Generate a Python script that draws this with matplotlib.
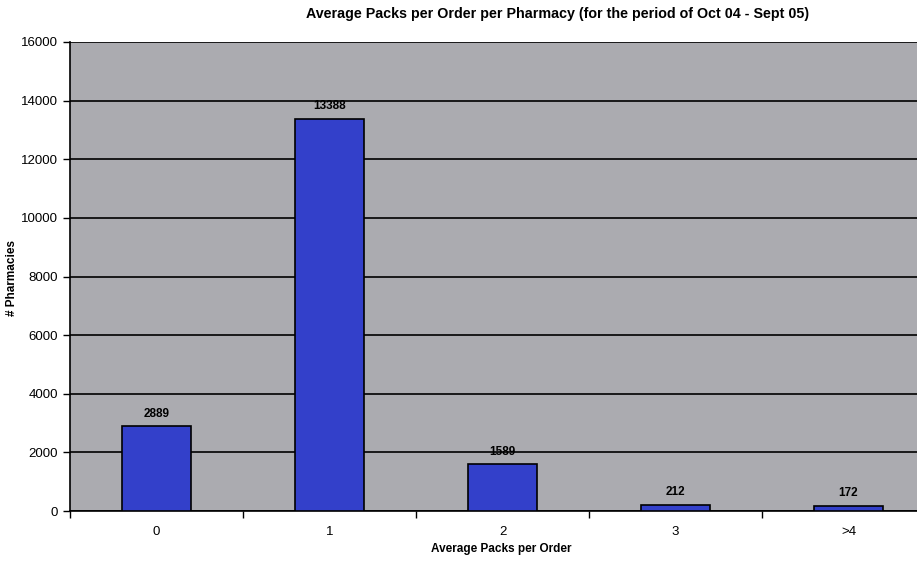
import matplotlib
matplotlib.use("Agg")
import matplotlib.pyplot as plt
import numpy as np

categories = ["0", "1", "2", "3", ">4"]
pharmacies = [2889, 13388, 1589, 212, 172]
y_ticks = [0, 2000, 4000, 6000, 8000, 10000, 12000, 14000, 16000]

plt.rcParams['font.family'] = ['Liberation Sans', 'DejaVu Sans']

W, H = 917, 562
fig = plt.figure(figsize=(W / 100, H / 100), dpi=100)
fig.patch.set_facecolor("white")

# plot area: left edge at x=70 px, extends past the right edge of the figure
left, right, top, bottom = 70, 935, 42, 511
ax = fig.add_axes([left / W, 1 - bottom / H, (right - left) / W, (bottom - top) / H])
ax.set_facecolor("#ABABB0")

x = np.arange(len(categories))
bars = ax.bar(x, pharmacies, width=0.4, color="#3340CA", edgecolor="black",
              linewidth=1.2, zorder=3)

for xi, v in zip(x, pharmacies):
    ax.text(xi, v + 230, str(v), ha="center", va="bottom", fontsize=8.5,
            fontweight="bold", color="black", zorder=4)

ax.set_xlim(-0.5, len(categories) - 0.5)
ax.set_ylim(0, 16000)
ax.set_yticks(y_ticks)
ax.set_yticklabels([str(t) for t in y_ticks], fontsize=9.5)
ax.yaxis.grid(True, color="black", linewidth=1.2, zorder=1)
ax.set_axisbelow(True)

# category labels centred on bars, tick marks between categories
ax.set_xticks(x)
ax.set_xticklabels(categories, fontsize=9.5)
ax.tick_params(axis="x", which="major", length=0, pad=11)
ax.set_xticks(np.arange(-0.5, len(categories)), minor=True)
ax.tick_params(axis="x", which="minor", length=5, width=1, direction="out", color="black")
ax.tick_params(axis="y", length=5, width=1, direction="out", color="black")

for side in ["top", "right"]:
    ax.spines[side].set_visible(False)
ax.spines["left"].set_linewidth(1.2)
ax.spines["bottom"].set_linewidth(1.2)

fig.text(558 / W, 1 - 14 / H, "Average Packs per Order per Pharmacy (for the period of Oct 04 - Sept 05)",
         ha="center", va="center", fontsize=10.3, fontweight="bold")
fig.text(501 / W, 1 - 549 / H, "Average Packs per Order", ha="center", va="center",
         fontsize=8.5, fontweight="bold")
fig.text(12 / W, 1 - 278 / H, "# Pharmacies", ha="center", va="center", rotation=90,
         fontsize=8.5, fontweight="bold")

fig.savefig("out.png", dpi=100)
